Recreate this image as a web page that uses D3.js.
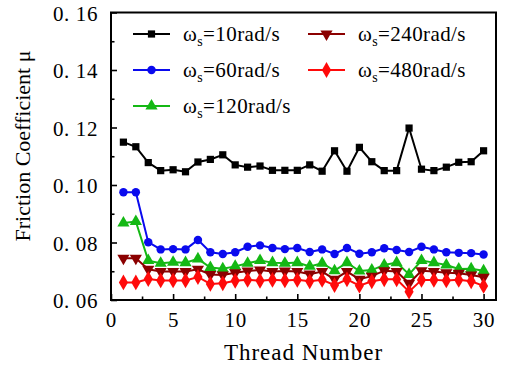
<!DOCTYPE html>
<html>
<head>
<meta charset="utf-8">
<script src="https://cdn.jsdelivr.net/npm/d3@7"></script>
<style>
  body { margin: 0; background: #fff; }
  svg text { font-family: "Liberation Serif", "DejaVu Serif", serif; }
</style>
</head>
<body>
<div id="chart-area"></div>
<script>
const W = 506, H = 367
const MARGIN = { LEFT: 111, RIGHT: 10, TOP: 12.5, BOTTOM: 67 }
const SERIF = "Liberation Serif, DejaVu Serif, serif"

// data
const threads = d3.range(1, 31)
const speeds = ["10", "60", "120", "240", "480"]
const mu10 = [0.1149, 0.1133, 0.1078, 0.1050, 0.1053, 0.1046, 0.1080, 0.1089, 0.1105, 0.1070,
  0.1062, 0.1066, 0.1051, 0.1051, 0.1051, 0.1070, 0.1048, 0.1119, 0.1048, 0.1131,
  0.1081, 0.1050, 0.1050, 0.1198, 0.1055, 0.1050, 0.1062, 0.1079, 0.1081, 0.1119]
const mu60 = [0.0975, 0.0975, 0.0801, 0.0776, 0.0777, 0.0776, 0.0809, 0.0766, 0.0760, 0.0766,
  0.0785, 0.0790, 0.0781, 0.0777, 0.0781, 0.0767, 0.0776, 0.0760, 0.0781, 0.0761,
  0.0766, 0.0780, 0.0774, 0.0767, 0.0785, 0.0776, 0.0766, 0.0764, 0.0763, 0.0758]
const mu120 = [0.0868, 0.0873, 0.0737, 0.0728, 0.0731, 0.0730, 0.0743, 0.0713, 0.0709, 0.0717,
  0.0728, 0.0737, 0.0730, 0.0728, 0.0730, 0.0717, 0.0728, 0.0702, 0.0730, 0.0701,
  0.0704, 0.0722, 0.0730, 0.0689, 0.0737, 0.0730, 0.0722, 0.0708, 0.0709, 0.0702]
const mu240 = [0.0745, 0.0745, 0.0707, 0.0699, 0.0699, 0.0699, 0.0707, 0.0689, 0.0687, 0.0695,
  0.0701, 0.0704, 0.0699, 0.0701, 0.0699, 0.0690, 0.0699, 0.0672, 0.0699, 0.0672,
  0.0683, 0.0702, 0.0699, 0.0658, 0.0702, 0.0699, 0.0695, 0.0693, 0.0687, 0.0679]
const mu480 = [0.0661, 0.0661, 0.0673, 0.0668, 0.0668, 0.0668, 0.0680, 0.0656, 0.0658, 0.0667,
  0.0670, 0.0667, 0.0670, 0.0668, 0.0670, 0.0665, 0.0670, 0.0652, 0.0672, 0.0650,
  0.0665, 0.0672, 0.0672, 0.0629, 0.0670, 0.0670, 0.0668, 0.0670, 0.0665, 0.0649]
const yTicks = [0.06, 0.08, 0.10, 0.12, 0.14, 0.16]
const xTicks = [0, 5, 10, 15, 20, 25, 30]

const allSeries = [mu10, mu60, mu120, mu240, mu480]
const colors = ["#000000", "#0a0aee", "#14b814", "#8b0000", "#ff0a0a"]
const shapes = [d3.symbolSquare, d3.symbolCircle, d3.symbolTriangle, "down", d3.symbolDiamond]
const sizes = [52, 56, 64, 64, 72]

const svg = d3.select("#chart-area").append("svg")
  .attr("width", W)
  .attr("height", H)
  .attr("font-family", SERIF)

const x = d3.scaleLinear().domain([0, 31]).range([MARGIN.LEFT, W - MARGIN.RIGHT])
const y = d3.scaleLinear().domain([0.06, 0.16]).range([H - MARGIN.BOTTOM, MARGIN.TOP])

// axes (ticks inward)
const fmtY = v => d3.format(".2f")(v).replace(".", ". ")
const xAx = svg.append("g")
  .attr("transform", `translate(0,${y(0.06)})`)
  .call(d3.axisBottom(x).tickValues(xTicks).tickSizeInner(-6).tickSizeOuter(0).tickPadding(14))
const xMinor = svg.append("g")
  .attr("transform", `translate(0,${y(0.06)})`)
  .call(d3.axisBottom(x).tickValues(xTicks.slice(0, -1).map(v => v + 2.5)).tickSize(-3.5).tickFormat(""))
const yAx = svg.append("g")
  .attr("transform", `translate(${x(0)},0)`)
  .call(d3.axisLeft(y).tickValues(yTicks).tickSizeInner(-6).tickSizeOuter(0).tickPadding(13).tickFormat(fmtY))
const yMinor = svg.append("g")
  .attr("transform", `translate(${x(0)},0)`)
  .call(d3.axisLeft(y).tickValues(yTicks.slice(0, -1).map(v => v + 0.01)).tickSize(-3.5).tickFormat(""))

for (const g of [xAx, xMinor, yAx, yMinor]) {
  g.attr("font-family", SERIF).attr("font-size", 21)
  g.select(".domain").remove()
  g.selectAll("line").attr("stroke", "#000").attr("stroke-width", 1.6)
  g.selectAll("text").attr("fill", "#000")
}
yAx.selectAll("text").attr("dy", "0.36em").style("letter-spacing", "0.6px")
xAx.selectAll("text").attr("dy", "0.62em").style("letter-spacing", "0.8px")

// frame
svg.append("rect")
  .attr("x", x(0)).attr("y", y(0.16))
  .attr("width", x(31) - x(0)).attr("height", y(0.06) - y(0.16))
  .attr("fill", "none").attr("stroke", "#000").attr("stroke-width", 2)

// lines
const line = d3.line().x((d, i) => x(threads[i])).y(d => y(d))

function symbolPath(k) {
  if (shapes[k] === "down") {
    return d3.symbol().type(d3.symbolTriangle).size(sizes[k])()
  }
  return d3.symbol().type(shapes[k]).size(sizes[k])()
}

allSeries.forEach((vals, k) => {
  const g = svg.append("g")
  g.append("path")
    .attr("d", line(vals))
    .attr("fill", "none")
    .attr("stroke", colors[k])
    .attr("stroke-width", 2)
  g.selectAll("path.pt")
    .data(vals)
    .join("path")
    .attr("class", "pt")
    .attr("d", symbolPath(k))
    .attr("transform", (d, i) => `translate(${x(threads[i])},${y(d)})` + (shapes[k] === "down" ? " rotate(180)" : ""))
    .attr("fill", colors[k])
})

// legend
const legPos = [[133, 34], [133, 70], [133, 106], [308, 34], [308, 70]]
speeds.forEach((s, k) => {
  const [lx, ly] = legPos[k]
  const g = svg.append("g").attr("transform", `translate(${lx},${ly})`)
  g.append("line").attr("x1", 0).attr("x2", 37).attr("y1", 0).attr("y2", 0)
    .attr("stroke", colors[k]).attr("stroke-width", 2)
  g.append("path").attr("d", symbolPath(k))
    .attr("transform", `translate(18.5,0)` + (shapes[k] === "down" ? " rotate(180)" : ""))
    .attr("fill", colors[k])
  const t = g.append("text").attr("x", 50).attr("y", 7)
    .attr("font-size", 21).style("letter-spacing", "0.4px")
  t.append("tspan").text("ω")
  t.append("tspan").text("s").attr("font-size", 14).attr("dy", 5)
  t.append("tspan").text("=" + s + "rad/s").attr("dy", -5)
})

// titles
svg.append("text")
  .attr("x", (x(0) + x(31)) / 2).attr("y", 360)
  .attr("text-anchor", "middle")
  .attr("font-size", 23)
  .style("letter-spacing", "1px")
  .text("Thread Number")
svg.append("text")
  .attr("transform", `translate(30,${146}) rotate(-90)`)
  .attr("text-anchor", "middle")
  .attr("font-size", 22)
  .text("Friction Coefficient μ")
</script>
</body>
</html>
